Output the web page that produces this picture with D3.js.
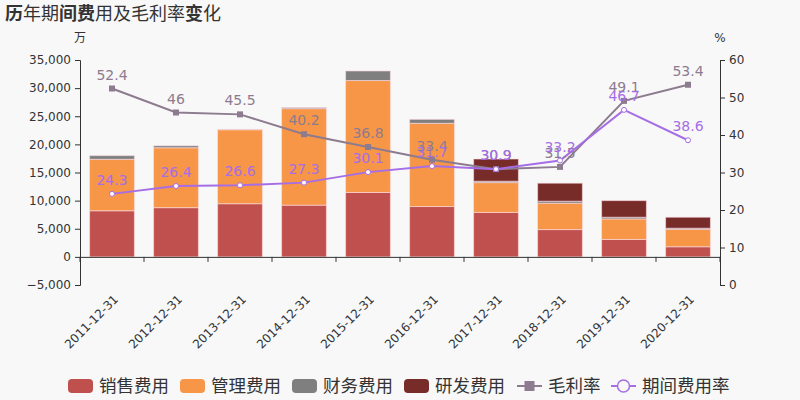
<!DOCTYPE html>
<html><head><meta charset="utf-8">
<script src="https://cdn.jsdelivr.net/npm/d3@7"></script>
<style>
body{margin:0;background:#f8f8f8;}
svg{display:block;font-family:"DejaVu Sans","Noto Sans CJK SC",sans-serif;}
</style></head><body>
<svg id="c" width="800" height="400"></svg>
<script>
const years = ["2011-12-31","2012-12-31","2013-12-31","2014-12-31","2015-12-31","2016-12-31","2017-12-31","2018-12-31","2019-12-31","2020-12-31"];
const sales   = [8200, 8750, 9450, 9200, 11450, 8950, 7900, 4850, 3100, 1800];
const admin   = [9150, 10650, 13150, 17150, 19900, 14800, 5300, 4700, 3650, 3100];
const finance = [650, 350, 60, 200, 1700, 700, 250, 350, 300, 200];
const rnd     = [0, 0, 0, 0, 0, 0, 3950, 3200, 2950, 1950];
const grossMargin = [52.4, 46, 45.5, 40.2, 36.8, 33.4, 30.9, 31.5, 49.1, 53.4];
const expenseRate = [24.3, 26.4, 26.6, 27.3, 30.1, 31.7, 30.9, 33.2, 46.7, 38.6];
const leftTicks = [-5000, 0, 5000, 10000, 15000, 20000, 25000, 30000, 35000];
const rightTicks = [0, 10, 20, 30, 40, 50, 60];
const seriesNames = ["销售费用","管理费用","财务费用","研发费用"];
const seriesColors = ["#c0504d","#f79646","#7f7f7f","#772c2a"];
const lineNames = ["毛利率","期间费用率"];
const lineColors = ["#8d7b8f","#a66ee6"];

const svg = d3.select("#c");
const L = 80, R = 720, T = 60, B = 285;

const x = d3.scaleBand().domain(years).range([L, R]).paddingInner(0.3).paddingOuter(0.15);
const xb = d3.scaleBand().domain(years).range([L, R]);
const y = d3.scaleLinear().domain([-5000, 35000]).range([B, T]);
const y2 = d3.scaleLinear().domain([0, 60]).range([B, T]);

// title
const title = svg.append("text").attr("x", 5).attr("y", 20).attr("font-size", 18).attr("fill", "#333");
[["历",1],["年期",0],["间费",1],["用及毛利率",0],["变",1],["化",0]].forEach(([t,b]) => {
  title.append("tspan").text(t).attr("font-weight", b ? "bold" : "normal");
});
svg.append("text").attr("x", 80).attr("y", 42).attr("text-anchor","middle").attr("font-size", 12).attr("fill","#333").text("万");
svg.append("text").attr("x", 720).attr("y", 42).attr("text-anchor","middle").attr("font-size", 12).attr("fill","#333").text("%");

// axes
const gl = svg.append("g").attr("transform", `translate(${L},0)`)
  .call(d3.axisLeft(y).tickValues(leftTicks).tickSize(5).tickPadding(4).tickFormat(d3.format(",")));
gl.select(".domain").attr("stroke","#333");
gl.selectAll(".tick line").attr("stroke","#333");
gl.selectAll(".tick text").attr("font-size", 12).attr("fill","#333").attr("font-family","DejaVu Sans");

const gr = svg.append("g").attr("transform", `translate(${R},0)`)
  .call(d3.axisRight(y2).tickValues(rightTicks).tickSize(5).tickPadding(4));
gr.select(".domain").attr("stroke","#333");
gr.selectAll(".tick line").attr("stroke","#333");
gr.selectAll(".tick text").attr("font-size", 12).attr("fill","#333").attr("font-family","DejaVu Sans");

// bars
const stackData = years.map((yr,i) => ({yr, s0: sales[i], s1: admin[i], s2: finance[i], s3: rnd[i]}));
const stack = d3.stack().keys(["s0","s1","s2","s3"])(stackData);
stack.forEach((layer, k) => {
  svg.append("g").selectAll("rect").data(layer).join("rect")
    .attr("x", d => x(d.data.yr))
    .attr("width", x.bandwidth())
    .attr("y", d => y(d[1]))
    .attr("height", d => Math.max(0, y(d[0]) - y(d[1])))
    .attr("fill", seriesColors[k])
    .attr("stroke", "rgba(255,220,230,0.6)")
    .attr("stroke-width", d => (d[1]-d[0]) > 0 ? 1 : 0);
});

// x axis at zero
const gx = svg.append("g").attr("transform", `translate(0,${y(0)})`)
  .call(d3.axisBottom(xb).tickSize(0).tickFormat(""));
gx.select(".domain").attr("stroke","#333");
svg.append("g").selectAll("line").data(d3.range(years.length + 1)).join("line")
  .attr("x1", i => L + i * xb.step()).attr("x2", i => L + i * xb.step())
  .attr("y1", y(0)).attr("y2", y(0) + 5).attr("stroke", "#333");

// x labels
svg.append("g").selectAll("text").data(years).join("text")
  .attr("transform", d => `translate(${xb(d) + xb.bandwidth()/2 + 4},${B + 12}) rotate(-45)`)
  .attr("text-anchor", "end").attr("dy", "0.35em")
  .attr("font-size", 12).attr("fill", "#333").text(d => d);

// lines
const lineGen = d3.line().x((d,i) => xb(years[i]) + xb.bandwidth()/2).y(d => y2(d));
[grossMargin, expenseRate].forEach((vals, k) => {
  svg.append("path").datum(vals).attr("d", lineGen).attr("fill","none")
    .attr("stroke", lineColors[k]).attr("stroke-width", 2);
});
// markers
svg.append("g").selectAll("rect").data(grossMargin).join("rect")
  .attr("x", (d,i) => xb(years[i]) + xb.bandwidth()/2 - 3)
  .attr("y", d => y2(d) - 3).attr("width", 6).attr("height", 6)
  .attr("fill", lineColors[0]);
svg.append("g").selectAll("circle").data(expenseRate).join("circle")
  .attr("cx", (d,i) => xb(years[i]) + xb.bandwidth()/2)
  .attr("cy", d => y2(d)).attr("r", 2.5)
  .attr("fill", "#fff").attr("stroke", lineColors[1]).attr("stroke-width", 1);
// labels
[grossMargin, expenseRate].forEach((vals, k) => {
  svg.append("g").selectAll("text").data(vals).join("text")
    .attr("x", (d,i) => xb(years[i]) + xb.bandwidth()/2)
    .attr("y", d => y2(d) - 9)
    .attr("text-anchor","middle").attr("font-size", 14)
    .attr("fill", lineColors[k]).text(d => d);
});

// legend
const lg = svg.append("g");
const legendX = [68, 180, 292, 404];
seriesNames.forEach((n, k) => {
  lg.append("rect").attr("x", legendX[k]).attr("y", 379).attr("width", 25).attr("height", 14)
    .attr("rx", 4).attr("fill", seriesColors[k]);
  lg.append("text").attr("x", legendX[k] + 31).attr("y", 392).attr("font-size", 17.5)
    .attr("fill", "#333").text(n);
});
const lineLegX = [517, 611];
lineNames.forEach((n, k) => {
  const cx = lineLegX[k] + 12.5;
  lg.append("line").attr("x1", lineLegX[k]).attr("x2", lineLegX[k] + 25).attr("y1", 386).attr("y2", 386)
    .attr("stroke", lineColors[k]).attr("stroke-width", 2);
  if (k === 0) {
    lg.append("rect").attr("x", cx - 5).attr("y", 381).attr("width", 10).attr("height", 10).attr("fill", lineColors[0]);
  } else {
    lg.append("circle").attr("cx", cx).attr("cy", 386).attr("r", 6).attr("fill", "#f8f8f8")
      .attr("stroke", lineColors[1]).attr("stroke-width", 1.5);
  }
  lg.append("text").attr("x", lineLegX[k] + 31).attr("y", 392).attr("font-size", 17.5)
    .attr("fill", "#333").text(n);
});
</script>
</body></html>
